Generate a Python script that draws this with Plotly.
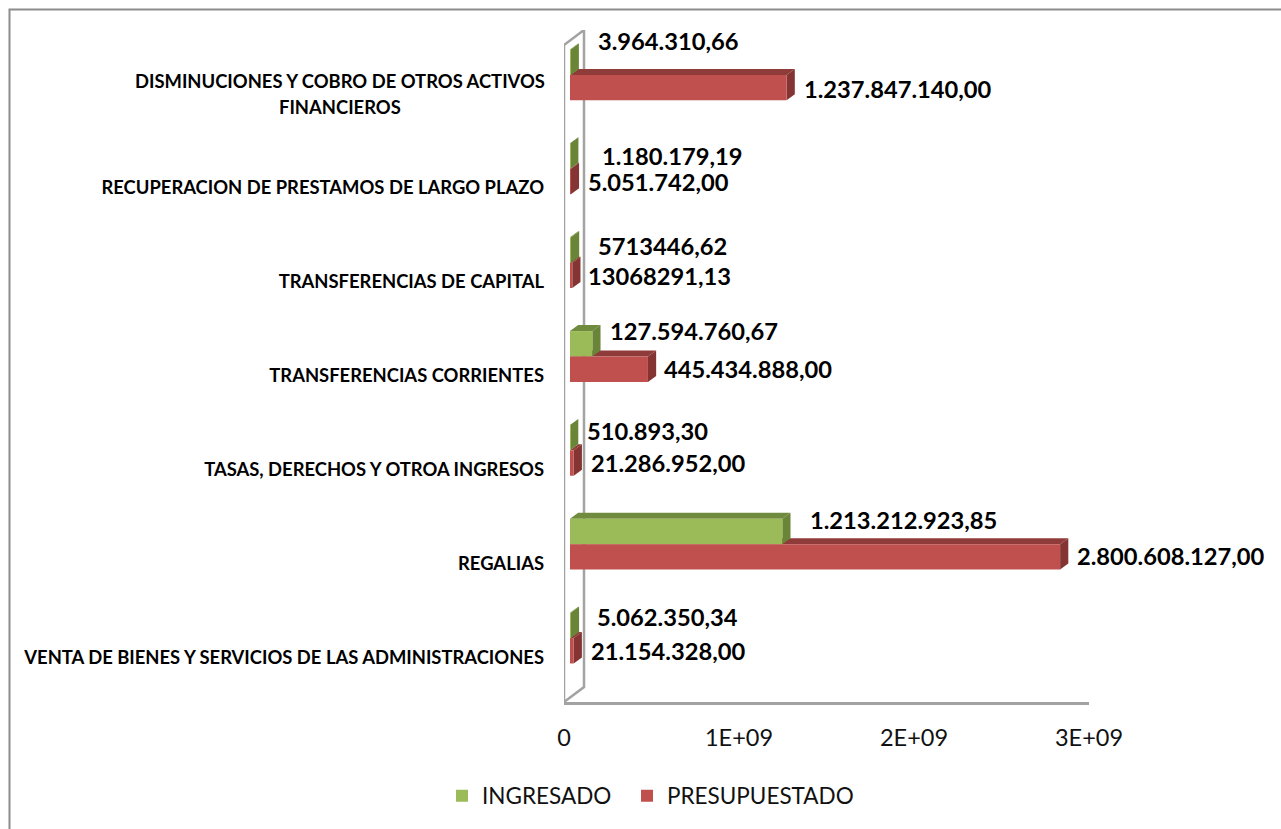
import plotly.graph_objects as go

categories = [
    "VENTA DE BIENES Y SERVICIOS DE LAS ADMINISTRACIONES",
    "REGALIAS",
    "TASAS, DERECHOS Y OTROA INGRESOS",
    "TRANSFERENCIAS CORRIENTES",
    "TRANSFERENCIAS DE CAPITAL",
    "RECUPERACION DE PRESTAMOS DE LARGO PLAZO",
    "DISMINUCIONES Y COBRO DE OTROS ACTIVOS FINANCIEROS",
]
tick_text = list(categories[:6]) + [""]
long_label_lines = ["DISMINUCIONES Y COBRO DE OTROS ACTIVOS", "FINANCIEROS"]

ingresado = [5062350.34, 1213212923.85, 510893.30, 127594760.67, 5713446.62, 1180179.19, 3964310.66]
presupuestado = [21154328.00, 2800608127.00, 21286952.00, 445434888.00, 13068291.13, 5051742.00, 1237847140.00]
ingresado_text = ["5.062.350,34", "1.213.212.923,85", "510.893,30", "127.594.760,67", "5713446,62", "1.180.179,19", "3.964.310,66"]
presupuestado_text = ["21.154.328,00", "2.800.608.127,00", "21.286.952,00", "445.434.888,00", "13068291,13", "5.051.742,00", "1.237.847.140,00"]
x_ticks = [0, 1e9, 2e9, 3e9]
x_tick_text = ["0", "1E+09", "2E+09", "3E+09"]

# Layout (pixels of the 1281x829 page)
W, H = 1281, 829
PLOT_L, PLOT_R, PLOT_T, PLOT_B = 564, 1089, 30, 702
X_MAX = 3e9
BAND_PX = 93.86
PX_X = X_MAX / (PLOT_R - PLOT_L)   # value units per pixel
PX_Y = 1 / BAND_PX                 # category units per pixel
Y_MIN, Y_WALL = -0.5, 6.5
Y_MAX = Y_MIN + (PLOT_B - PLOT_T) * PX_Y

BASE = 6 * PX_X          # gap between the axis and the start of the bars
BAR_H = 25.4 * PX_Y
GREEN_OFF = 17 * PX_Y    # boundary between both bars, above category centre
RED_OFF = GREEN_OFF - BAR_H
DX, DY = 8.2 * PX_X, 6 * PX_Y
WALL_DX, WALL_DY = 20 * PX_X, 15 * PX_Y

GREEN, GREEN_TOP, GREEN_SIDE = "#9BBB59", "#708B3D", "#6A8438"
RED, RED_TOP, RED_SIDE = "#C0504D", "#8F3B39", "#843533"
GRAY = "#A3A3A3"
FONT = "Lato"

# label offsets from the end of each bar
green_dx = [24, 26, 15, 16, 25, 30, 25]
green_dy = [38, 41, 36, 42, 34, 30, 51]
red_dx = [15, 15, 15, 14, 14, 15, 15]
red_dy = [4, 5, 4, 4, 4, 4, 3]

LABEL_SIZE = 23.7
CAT_SIZE = 18.4
AXIS_SIZE = 23.5
LEGEND_SIZE = 22.5


def box_faces(i, value, off, top_col, side_col):
    x0, x1 = BASE, BASE + value
    lo, hi = i + off, i + off + BAR_H
    return [
        dict(type="path", xref="x", yref="y", layer="below", line=dict(width=0), fillcolor=top_col,
             path=f"M{x0},{hi} L{x1},{hi} L{x1+DX},{hi+DY} L{x0+DX},{hi+DY} Z"),
        dict(type="path", xref="x", yref="y", layer="below", line=dict(width=0), fillcolor=side_col,
             path=f"M{x1},{lo} L{x1+DX},{lo+DY} L{x1+DX},{hi+DY} L{x1},{hi} Z"),
    ]


shapes = [
    # page frame
    dict(type="rect", xref="paper", yref="paper", x0=9.5 / W, x1=1.01, y0=-0.01, y1=1 - 9.5 / H,
         line=dict(color="#8C8C8C", width=2), layer="below"),
    # 3D side wall
    dict(type="path", xref="x", yref="y", layer="below", line=dict(color=GRAY, width=2.5), fillcolor="rgba(0,0,0,0)",
         path=f"M0,{Y_MIN} L0,{Y_WALL} L{WALL_DX},{Y_WALL+WALL_DY} L{WALL_DX},{Y_MIN+WALL_DY} Z"),
]
for i, v in enumerate(presupuestado):
    shapes += box_faces(i, v, RED_OFF, RED_TOP, RED_SIDE)
for i, v in enumerate(ingresado):
    shapes += box_faces(i, v, GREEN_OFF, GREEN_TOP, GREEN_SIDE)

annotations = []
for i, c in enumerate(categories):
    for v, txt, dx, dy in ((ingresado[i], ingresado_text[i], green_dx[i], green_dy[i]),
                           (presupuestado[i], presupuestado_text[i], red_dx[i], red_dy[i])):
        annotations.append(dict(x=BASE + v, y=c, xref="x", yref="y", text=f"<b>{txt}</b>", showarrow=False,
                                xanchor="left", yanchor="middle", xshift=dx, yshift=dy,
                                font=dict(family=FONT, size=LABEL_SIZE, color="#000000")))
# centred two-line label of the last category
for line, dy in zip(long_label_lines, (11, -15)):
    annotations.append(dict(x=340 / W, xref="paper", y=categories[6], yref="y", text=f"<b>{line}</b>", showarrow=False,
                            xanchor="center", yanchor="middle", yshift=dy,
                            font=dict(family=FONT, size=CAT_SIZE, color="#000000")))

fig = go.Figure()
fig.add_trace(go.Bar(name="INGRESADO", y=categories, x=ingresado, base=BASE, orientation="h", legend="legend",
                     width=BAR_H, offset=GREEN_OFF, marker=dict(color=GREEN, line=dict(width=0))))
fig.add_trace(go.Bar(name="PRESUPUESTADO", y=categories, x=presupuestado, base=BASE, orientation="h", legend="legend2",
                     width=BAR_H, offset=RED_OFF, marker=dict(color=RED, line=dict(width=0))))

legend_common = dict(orientation="h", y=1 - 796 / H, xanchor="left", yanchor="middle",
                     font=dict(family=FONT, size=LEGEND_SIZE, color="#111111"), bgcolor="rgba(0,0,0,0)",
                     itemclick=False, itemdoubleclick=False)

fig.update_layout(
    width=W, height=H, autosize=False,
    margin=dict(l=0, r=0, t=0, b=0, autoexpand=False),
    paper_bgcolor="white", plot_bgcolor="rgba(0,0,0,0)",
    barmode="overlay", shapes=shapes, annotations=annotations, showlegend=True,
    legend=dict(x=442 / W, **legend_common),
    legend2=dict(x=627 / W, **legend_common),
    xaxis=dict(domain=[PLOT_L / W, PLOT_R / W], range=[0, X_MAX], tickmode="array",
               tickvals=x_ticks, ticktext=x_tick_text, showgrid=False, zeroline=False,
               showline=True, linecolor=GRAY, linewidth=2.5, ticks="", ticklabelstandoff=13,
               tickfont=dict(family=FONT, size=AXIS_SIZE, color="#111111"), fixedrange=True),
    yaxis=dict(domain=[1 - PLOT_B / H, 1 - PLOT_T / H], range=[Y_MIN, Y_MAX], type="category",
               categoryorder="array", categoryarray=categories, tickmode="array",
               tickvals=categories, ticktext=[f"<b>{t}</b>" if t else "" for t in tick_text],
               showgrid=False, zeroline=False, showline=False, ticks="", ticklabelstandoff=19,
               ticklabelshift=2,
               tickfont=dict(family=FONT, size=CAT_SIZE, color="#000000"), fixedrange=True),
)

fig.write_html("out.html", config={"displayModeBar": False},
               post_script="document.body.style.margin='0';document.body.style.overflow='hidden';")
